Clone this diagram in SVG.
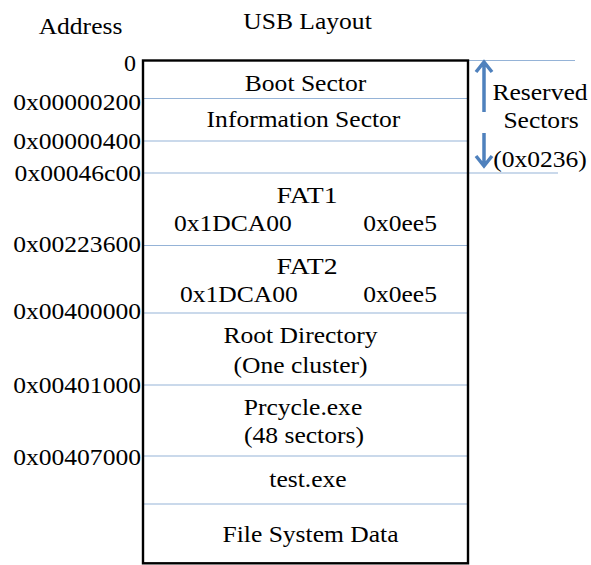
<svg xmlns="http://www.w3.org/2000/svg" width="591" height="565" viewBox="0 0 591 565">
<style>
  .m { text-anchor: middle; }
  .e { text-anchor: end; }
  .sep { stroke: #95b3d7; stroke-width: 1.2; fill: none; }
  .arr { stroke: #4f81bd; stroke-width: 3.5; fill: none; stroke-linejoin: miter; }
</style>
<rect width="591" height="565" fill="#fff"/>
<g id="titles">
  <text class="m" x="80.5" y="34" font-family="Liberation Serif" font-size="24" textLength="83.7" lengthAdjust="spacingAndGlyphs">Address</text>
  <text class="m" x="307.5" y="29" font-family="Liberation Serif" font-size="24" textLength="128.5" lengthAdjust="spacingAndGlyphs">USB Layout</text>
</g>
<g id="addresses">
  <text class="e" x="136" y="71" font-family="Liberation Serif" font-size="24">0</text>
  <text class="e" x="141" y="110" font-family="Liberation Serif" font-size="24" textLength="127.8" lengthAdjust="spacingAndGlyphs">0x00000200</text>
  <text class="e" x="141" y="149" font-family="Liberation Serif" font-size="24" textLength="127.8" lengthAdjust="spacingAndGlyphs">0x00000400</text>
  <text class="e" x="141" y="181" font-family="Liberation Serif" font-size="24" textLength="126.4" lengthAdjust="spacingAndGlyphs">0x00046c00</text>
  <text class="e" x="141" y="252" font-family="Liberation Serif" font-size="24" textLength="127.8" lengthAdjust="spacingAndGlyphs">0x00223600</text>
  <text class="e" x="141" y="319" font-family="Liberation Serif" font-size="24" textLength="127.8" lengthAdjust="spacingAndGlyphs">0x00400000</text>
  <text class="e" x="141" y="393" font-family="Liberation Serif" font-size="24" textLength="127.8" lengthAdjust="spacingAndGlyphs">0x00401000</text>
  <text class="e" x="141" y="465" font-family="Liberation Serif" font-size="24" textLength="127.8" lengthAdjust="spacingAndGlyphs">0x00407000</text>
</g>
<g id="connectors">
  <line class="sep" x1="468" y1="60.5" x2="575" y2="60.5"/>
  <line class="sep" x1="143" y1="98.5" x2="468" y2="98.5"/>
  <line class="sep" x1="143" y1="141" x2="468" y2="141"/>
  <line class="sep" x1="143" y1="173" x2="558" y2="173"/>
  <line class="sep" x1="143" y1="245.5" x2="468" y2="245.5"/>
  <line class="sep" x1="143" y1="313" x2="468" y2="313"/>
  <line class="sep" x1="143" y1="385" x2="468" y2="385"/>
  <line class="sep" x1="143" y1="456" x2="468" y2="456"/>
  <line class="sep" x1="143" y1="504" x2="468" y2="504"/>
  <path class="arr" d="M484 112 V62 M476 72 L484 62 L492 72"/>
  <path class="arr" d="M484 133 V166 M476 156 L484 166 L492 156"/>
</g>
<g id="layout-box">
  <rect x="143" y="60.5" width="325" height="502.8" fill="none" stroke="#000" stroke-width="2.4"/>
</g>
<g id="boot-sector"><text class="m" x="305.5" y="91" font-family="Liberation Serif" font-size="24" textLength="121.4" lengthAdjust="spacingAndGlyphs">Boot Sector</text></g>
<g id="information-sector"><text class="m" x="303.5" y="127" font-family="Liberation Serif" font-size="24" textLength="193.8" lengthAdjust="spacingAndGlyphs">Information Sector</text></g>
<g id="fat1">
  <text class="m" x="307" y="203" font-family="Liberation Serif" font-size="24" textLength="61.1" lengthAdjust="spacingAndGlyphs">FAT1</text>
  <text x="174" y="231" font-family="Liberation Serif" font-size="24" textLength="117.9" lengthAdjust="spacingAndGlyphs">0x1DCA00</text>
  <text class="e" x="437" y="231" font-family="Liberation Serif" font-size="24" textLength="73.8" lengthAdjust="spacingAndGlyphs">0x0ee5</text>
</g>
<g id="fat2">
  <text class="m" x="307" y="274" font-family="Liberation Serif" font-size="24" textLength="61.1" lengthAdjust="spacingAndGlyphs">FAT2</text>
  <text x="180" y="302" font-family="Liberation Serif" font-size="24" textLength="117.9" lengthAdjust="spacingAndGlyphs">0x1DCA00</text>
  <text class="e" x="437" y="302" font-family="Liberation Serif" font-size="24" textLength="73.8" lengthAdjust="spacingAndGlyphs">0x0ee5</text>
</g>
<g id="root-directory">
  <text class="m" x="300.5" y="343" font-family="Liberation Serif" font-size="24" textLength="154" lengthAdjust="spacingAndGlyphs">Root Directory</text>
  <text class="m" x="300.5" y="373" font-family="Liberation Serif" font-size="24" textLength="134.1" lengthAdjust="spacingAndGlyphs">(One cluster)</text>
</g>
<g id="prcycle">
  <text class="m" x="303" y="415" font-family="Liberation Serif" font-size="24" textLength="118.5" lengthAdjust="spacingAndGlyphs">Prcycle.exe</text>
  <text class="m" x="304" y="443" font-family="Liberation Serif" font-size="24" textLength="120" lengthAdjust="spacingAndGlyphs">(48 sectors)</text>
</g>
<g id="test-exe"><text class="m" x="308" y="487" font-family="Liberation Serif" font-size="24" textLength="77.4" lengthAdjust="spacingAndGlyphs">test.exe</text></g>
<g id="file-system-data"><text class="m" x="310.5" y="542" font-family="Liberation Serif" font-size="24" textLength="176" lengthAdjust="spacingAndGlyphs">File System Data</text></g>
<g id="reserved-sectors">
  <text class="m" x="540" y="100" font-family="Liberation Serif" font-size="24" textLength="95.1" lengthAdjust="spacingAndGlyphs">Reserved</text>
  <text class="m" x="541" y="128" font-family="Liberation Serif" font-size="24" textLength="75.2" lengthAdjust="spacingAndGlyphs">Sectors</text>
  <text class="m" x="540" y="167" font-family="Liberation Serif" font-size="24" textLength="93.7" lengthAdjust="spacingAndGlyphs">(0x0236)</text>
</g>
</svg>
